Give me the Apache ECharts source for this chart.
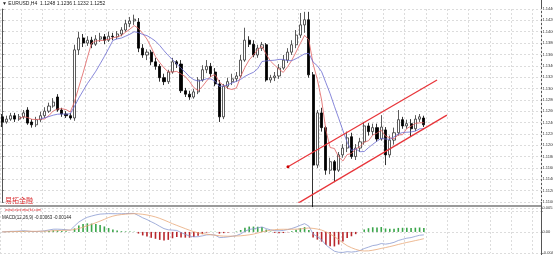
<!DOCTYPE html>
<html><head><meta charset="utf-8">
<script src="https://cdn.jsdelivr.net/npm/echarts@6/dist/echarts.min.js"></script>
<style>html,body{margin:0;padding:0;background:#fff}#c{width:553px;height:255px}</style>
</head><body><div id="c"></div>
<script>
// ---- data (EURUSD, H4) : [open, close, low, high]
const ohlc = [
[1.1250,1.1241,1.1232,1.1255],[1.1241,1.1246,1.1238,1.1252],[1.1246,1.1252,1.1243,1.1257],[1.1252,1.1246,1.1241,1.1257],
[1.1246,1.1250,1.1243,1.1255],[1.1250,1.1257,1.1246,1.1262],[1.1262,1.1239,1.1236,1.1267],[1.1241,1.1236,1.1231,1.1246],
[1.1236,1.1245,1.1232,1.1250],[1.1245,1.1252,1.1241,1.1259],[1.1252,1.1260,1.1248,1.1267],[1.1260,1.1269,1.1257,1.1275],
[1.1269,1.1276,1.1266,1.1283],[1.1285,1.1262,1.1259,1.1290],[1.1262,1.1255,1.1250,1.1266],[1.1255,1.1252,1.1248,1.1260],
[1.1252,1.1248,1.1245,1.1257],[1.1248,1.1368,1.1243,1.1377],[1.1368,1.1389,1.1359,1.1400],[1.1389,1.1380,1.1373,1.1396],
[1.1380,1.1385,1.1375,1.1392],[1.1385,1.1378,1.1371,1.1391],[1.1378,1.1387,1.1375,1.1394],[1.1387,1.1391,1.1382,1.1398],
[1.1391,1.1385,1.1378,1.1396],[1.1385,1.1392,1.1382,1.1400],[1.1392,1.1391,1.1385,1.1398],[1.1391,1.1396,1.1387,1.1401],
[1.1396,1.1403,1.1392,1.1408],[1.1403,1.1414,1.1400,1.1421],[1.1414,1.1419,1.1408,1.1426],[1.1419,1.1422,1.1412,1.1430],
[1.1417,1.1371,1.1364,1.1424],[1.1371,1.1359,1.1354,1.1378],[1.1359,1.1364,1.1350,1.1369],[1.1364,1.1347,1.1341,1.1368],
[1.1347,1.1339,1.1333,1.1354],[1.1339,1.1319,1.1312,1.1343],[1.1319,1.1312,1.1306,1.1326],[1.1312,1.1329,1.1308,1.1333],
[1.1329,1.1347,1.1326,1.1354],[1.1347,1.1343,1.1336,1.1350],[1.1343,1.1296,1.1292,1.1350],[1.1296,1.1290,1.1285,1.1301],
[1.1290,1.1285,1.1280,1.1296],[1.1285,1.1294,1.1282,1.1299],[1.1294,1.1315,1.1290,1.1320],[1.1315,1.1333,1.1312,1.1341],
[1.1333,1.1339,1.1327,1.1350],[1.1339,1.1326,1.1320,1.1345],[1.1329,1.1308,1.1304,1.1336],[1.1308,1.1250,1.1241,1.1315],
[1.1250,1.1304,1.1246,1.1308],[1.1304,1.1312,1.1299,1.1319],[1.1312,1.1317,1.1306,1.1326],[1.1317,1.1322,1.1312,1.1329],
[1.1322,1.1350,1.1319,1.1359],[1.1350,1.1385,1.1347,1.1407],[1.1385,1.1378,1.1373,1.1392],[1.1378,1.1359,1.1355,1.1385],
[1.1359,1.1371,1.1354,1.1377],[1.1371,1.1377,1.1366,1.1382],[1.1377,1.1315,1.1312,1.1380],[1.1315,1.1319,1.1310,1.1324],
[1.1319,1.1322,1.1313,1.1329],[1.1322,1.1336,1.1317,1.1343],[1.1336,1.1350,1.1333,1.1359],[1.1350,1.1364,1.1345,1.1371],
[1.1364,1.1377,1.1359,1.1385],[1.1377,1.1394,1.1371,1.1403],[1.1394,1.1412,1.1389,1.1433],[1.1412,1.1421,1.1398,1.1435],
[1.1421,1.1324,1.1319,1.1435],[1.1324,1.1165,1.1091,1.1329],[1.1165,1.1257,1.1160,1.1262],[1.1257,1.1231,1.1224,1.1266],
[1.1231,1.1156,1.1148,1.1234],[1.1156,1.1171,1.1149,1.1178],[1.1171,1.1156,1.1135,1.1174],[1.1156,1.1183,1.1153,1.1188],
[1.1183,1.1195,1.1178,1.1202],[1.1195,1.1213,1.1188,1.1224],[1.1215,1.1180,1.1176,1.1222],[1.1180,1.1195,1.1174,1.1202],
[1.1195,1.1206,1.1188,1.1213],[1.1206,1.1234,1.1201,1.1241],[1.1234,1.1224,1.1217,1.1239],[1.1224,1.1231,1.1218,1.1238],
[1.1231,1.1211,1.1206,1.1238],[1.1211,1.1232,1.1208,1.1253],[1.1227,1.1183,1.1165,1.1232],[1.1183,1.1209,1.1178,1.1217],
[1.1209,1.1222,1.1201,1.1231],[1.1222,1.1245,1.1217,1.1262],[1.1245,1.1234,1.1229,1.1250],[1.1234,1.1238,1.1229,1.1245],
[1.1238,1.1229,1.1215,1.1246],[1.1229,1.1246,1.1225,1.1253],[1.1246,1.1250,1.1241,1.1255],[1.1248,1.1236,1.1232,1.1252]
];
const totalSlots = 127;               // bar slots across the window (right part is chart shift)
const categories = [];
for (let i = 0; i < totalSlots; i++) categories.push('bar' + i);
const priceTickStep = 0.0020;
const priceMin = 1.1100;
const priceMax = 1.1440;
// trend channel, [bar position, price]
const channelUpper = [[67.1, 1.1162], [102.1, 1.1315]];
const channelLower = [[69.5, 1.1098], [104.4, 1.1253]];
const maFastPeriod = 5;
const maSlowPeriod = 10;
const macdFast = 12, macdSlow = 26, macdSignal = 9;
const macdMin = -0.0045, macdMax = 0.0051, macdStep = 0.0045;
const symbolName = 'EURUSD,H4';
const watermark = '易拓金融';
const watermarkUrl = 'www.ewinmarkt.com';

// ---- indicators computed from the closes
const closes = ohlc.map(d => d[1]);
function sma(arr, n) {
  return arr.map((v, i) => {
    if (i < n - 1) return '-';
    let s = 0; for (let k = i - n + 1; k <= i; k++) s += arr[k];
    return +(s / n).toFixed(5);
  });
}
function ema(arr, n) {
  const a = 2 / (n + 1); const out = []; let prev = arr[0];
  arr.forEach((v, i) => { prev = i === 0 ? v : a * v + (1 - a) * prev; out.push(prev); });
  return out;
}
const e1 = ema(closes, macdFast), e2 = ema(closes, macdSlow);
const macdLine = closes.map((v, i) => e1[i] - e2[i]);
const signalLine = macdLine.map((v, i) => {
  const n = Math.min(macdSignal, i + 1); let s = 0;
  for (let k = i - n + 1; k <= i; k++) s += macdLine[k];
  return s / n;
});
const hist = macdLine.map((v, i) => v - signalLine[i]);
const last = ohlc[ohlc.length - 1];

const chart = echarts.init(document.getElementById('c'), null, {renderer: 'canvas'});
const font = 'Liberation Sans';
const gridLine = {show: true, lineStyle: {color: '#dcdcdc', type: [2, 2], width: 1}};
function chanData(pts) {
  return [{value: pts[0], symbol: 'circle', symbolSize: 3}, {value: pts[1], symbol: 'none'}];
}
chart.setOption({
  animation: false,
  backgroundColor: '#fff',
  textStyle: {fontFamily: font},
  grid: [
    {left: 0, right: 12, top: 9, height: 193, outerBoundsMode: 'none'},
    {left: 0, right: 12, top: 208, height: 45, outerBoundsMode: 'none'}
  ],
  xAxis: [
    {type: 'category', gridIndex: 0, data: categories, boundaryGap: true,
     axisLine: {show: false}, axisTick: {show: false}, axisLabel: {show: false},
     splitLine: Object.assign({interval: 4}, gridLine)},
    {type: 'value', gridIndex: 0, min: -0.5, max: totalSlots - 0.5, show: false},
    {type: 'category', gridIndex: 1, data: categories, boundaryGap: true,
     axisLine: {show: false}, axisTick: {show: false}, axisLabel: {show: false},
     splitLine: Object.assign({interval: 4}, gridLine)}
  ],
  yAxis: [
    {type: 'value', gridIndex: 0, position: 'right', min: priceMin, max: priceMax, interval: priceTickStep,
     axisLine: {show: true, lineStyle: {color: '#555'}},
     axisTick: {show: true, length: 1.5, lineStyle: {color: '#555'}},
     axisLabel: {fontSize: 4, color: '#333', margin: 1.5, formatter: v => v.toFixed(4)},
     splitLine: gridLine},
    {type: 'value', gridIndex: 1, position: 'right', min: macdMin, max: macdMax, interval: macdStep,
     axisLine: {show: true, lineStyle: {color: '#555'}},
     axisTick: {show: true, length: 1.5, lineStyle: {color: '#555'}},
     axisLabel: {fontSize: 4, color: '#333', margin: 1.5,
       formatter: v => Math.abs(v) < 1e-9 ? '0.00' : (Math.abs(v - macdStep) < 1e-9 ? '' : v.toFixed(5))},
     splitLine: gridLine}
  ],
  series: [
    {type: 'candlestick', name: 'price', xAxisIndex: 0, yAxisIndex: 0, data: ohlc, clip: false,
     barWidth: 2.6,
     itemStyle: {color: '#ffffff', borderColor: '#333', color0: '#000', borderColor0: '#000', borderWidth: 0.8},
     markLine: {silent: true, symbol: 'none', data: [{yAxis: last[1]}],
       lineStyle: {opacity: 0},
       label: {position: 'end', distance: 1, formatter: last[1].toFixed(4), backgroundColor: '#000', color: '#fff',
               fontSize: 4, padding: [1, 1]}}},
    {type: 'line', name: 'MA fast', xAxisIndex: 0, yAxisIndex: 0, data: sma(closes, maFastPeriod),
     showSymbol: false, lineStyle: {color: '#e06060', width: 0.8}},
    {type: 'line', name: 'MA slow', xAxisIndex: 0, yAxisIndex: 0, data: sma(closes, maSlowPeriod),
     showSymbol: false, lineStyle: {color: '#6a6ad0', width: 0.8}},
    {type: 'line', name: 'upper channel', xAxisIndex: 1, yAxisIndex: 0, data: chanData(channelUpper),
     showAllSymbol: true, lineStyle: {color: '#e8353a', width: 1.3}, itemStyle: {color: '#c00'}},
    {type: 'line', name: 'lower channel', xAxisIndex: 1, yAxisIndex: 0, data: chanData(channelLower),
     showAllSymbol: true, lineStyle: {color: '#e8353a', width: 1.3}, itemStyle: {color: '#c00'}},
    {type: 'bar', name: 'MACD hist', xAxisIndex: 2, yAxisIndex: 1, data: hist.map(v => ({
        value: +v.toFixed(6),
        itemStyle: {color: v >= 0 ? '#3aa54a' : '#b8262b'}})),
     barWidth: 1.6},
    {type: 'line', name: 'MACD', xAxisIndex: 2, yAxisIndex: 1, data: macdLine.map(v => +v.toFixed(6)),
     showSymbol: false, lineStyle: {color: '#8a9ad0', width: 0.8}},
    {type: 'line', name: 'Signal', xAxisIndex: 2, yAxisIndex: 1, data: signalLine.map(v => +v.toFixed(6)),
     showSymbol: false, lineStyle: {color: '#e8a878', width: 0.8}}
  ],
  graphic: [
    {type: 'line', shape: {x1: 0, y1: 206, x2: 541, y2: 206}, style: {stroke: '#9a9a9a', lineWidth: 2}},
    {type: 'line', shape: {x1: 541.5, y1: 0, x2: 541.5, y2: 255}, style: {stroke: '#555', lineWidth: 1}},
    {type: 'text', left: 2, top: 1, style: {text: '▼ ' + symbolName + '  ' + last.map(v => v.toFixed(4)).join(' '),
      fontSize: 5, fill: '#222', fontFamily: font}},
    {type: 'text', left: 5, top: 197, style: {text: watermark, fontSize: 7, fill: '#d8282c', fontFamily: 'Noto Sans CJK SC'}},
    {type: 'text', left: 5, top: 208, style: {text: watermarkUrl, fontSize: 4, fill: '#d8282c', fontFamily: font}},
    {type: 'text', left: 2, top: 215, style: {text: 'MACD(' + macdFast + ',' + macdSlow + ',' + macdSignal + ') ' +
      macdLine[macdLine.length - 1].toFixed(5) + ' ' + signalLine[signalLine.length - 1].toFixed(5),
      fontSize: 4.5, fill: '#222', fontFamily: font}}
  ]
});
</script></body></html>
